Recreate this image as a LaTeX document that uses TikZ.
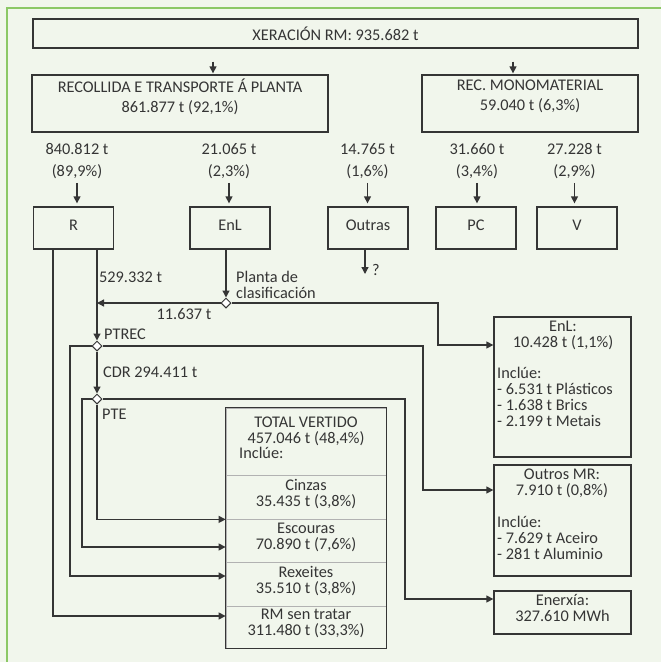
\documentclass[tikz,border=0pt]{standalone}
\usepackage{fontspec}
\setmainfont{Carlito}
\usepackage{xcolor}
\usepackage{tikz}
\usetikzlibrary{positioning,arrows.meta,shapes.geometric}

\definecolor{bggreen}{HTML}{F1F6EC}
\definecolor{framegreen}{HTML}{8CC866}
\definecolor{ink}{HTML}{353535}

\begin{document}
\begin{tikzpicture}[x=1pt, y=-1pt,
        font=\fontsize{16.3}{16}\selectfont,
        box/.style={rectangle, draw=ink, line width=1.3pt, text=ink, align=center, inner sep=0pt},
        row/.style={rectangle, draw=gray!60, line width=0.8pt, minimum width=160pt, text=ink, align=center, inner sep=0pt, text depth=9pt},
        junction/.style={diamond, aspect=1, draw=ink, fill=white, line width=1pt, minimum size=10pt, inner sep=0pt},
        arr/.style={-{Triangle[length=7pt, width=7pt]}, draw=ink, line width=1.3pt},
        note/.style={text=ink, align=center, inner sep=0pt}
    ]
    % Background and frame
    \useasboundingbox (0,0) rectangle (661,662);
    \fill[bggreen] (0,0) rectangle (661,662);
    \draw[framegreen, line width=2pt] (7,662) -- (7,8) -- (661,8);

    % Generation and collection
    \node[box, minimum width=605pt, minimum height=29pt] (gen) at (335.5,33.5) {XERACIÓN RM: 935.682 t};
    \node[box, minimum width=296pt, minimum height=57pt, text depth=16pt] (col) at (180,103.5) {RECOLLIDA E TRANSPORTE Á PLANTA\\[4pt]861.877 t (92,1\%)};
    \node[box, minimum width=216pt, minimum height=57pt, text depth=16pt] (mono) at (530,103.5) {REC. MONOMATERIAL\\[4pt]59.040 t (6,3\%)};
    \draw[arr, shorten <=13pt, shorten >=1pt] ([xshift=33pt]col.north |- gen.south) -- ([xshift=33pt]col.north);
    \draw[arr, shorten <=13pt, shorten >=1pt] ([xshift=-17pt]mono.north |- gen.south) -- ([xshift=-17pt]mono.north);

    % Fractions
    \foreach \n/\x/\t in {r/73.5/R, enl/230/EnL, outras/368/Outras, pc/476/PC, v/577/V} {
        \node[box, minimum width=80pt, minimum height=42pt, text depth=6pt] (\n) at (\x,228) {\t};
    }
    \foreach \n/\x/\amt/\pct in {r/77/840.812/{89,9}, enl/229/21.065/{2,3}, outras/367.5/14.765/{1,6}, pc/477/31.660/{3,4}, v/574.5/27.228/{2,9}} {
        \node[note] (\n-val) at (\x,161) {\amt{} t\\[6pt](\pct\%)};
        \draw[arr, shorten <=4pt, shorten >=3pt] (\n-val.south) -- (\n-val.south |- \n.north);
    }
    \coordinate (unknown) at (365,274);
    \draw[arr] (unknown |- outras.south) -- (unknown);
    \node[note] (qmark) at (376,270) {?};

    % Plants
    \node[junction] (planta) at (226,303) {};
    \node[junction] (ptrec) at (97,346) {};
    \node[junction] (pte) at (97,399) {};
    \node[note, anchor=west] (rval) at (99,277) {529.332 t};
    \node[note, anchor=west, align=left] (plantalab) at (236,284.5) {Planta de\\clasificación};
    \node[note] (enlval) at (184,314) {11.637 t};
    \node[note, anchor=west] (ptreclab) at (104,334) {PTREC};
    \node[note, anchor=west] (cdr) at (103,372) {CDR 294.411 t};
    \node[note, anchor=west] (ptelab) at (102,414) {PTE};

    % Landfill
    \node[row, minimum height=67pt, text depth=23pt] (hdr) at (306,441.5) {TOTAL VERTIDO\\457.046 t (48,4\%)};
    \node[note, anchor=west] (inc) at (239,453) {Inclúe:};
    \node[row, minimum height=44pt] (cin) at (306,497) {Cinzas\\35.435 t (3,8\%)};
    \node[row, minimum height=43pt] (esc) at (306,540.5) {Escouras\\70.890 t (7,6\%)};
    \node[row, minimum height=44pt] (rex) at (306,584) {Rexeites\\35.510 t (3,8\%)};
    \node[row, minimum height=42pt] (rmst) at (306,627) {RM sen tratar\\311.480 t (33,3\%)};
    \draw[ink, line width=1.3pt] (hdr.north west) rectangle (rmst.south east);

    % Recovered outputs
    \node[box, minimum width=137pt, minimum height=140pt] (enlout) at (562.5,387) {};
    \node[note] (enlhead) at (563,335) {EnL:\\10.428 t (1,1\%)};
    \node[note, anchor=north west, align=left] (enlinc) at (497,367) {Inclúe:\\- 6.531 t Plásticos\\- 1.638 t Brics\\- 2.199 t Metais};
    \node[box, minimum width=137pt, minimum height=111pt] (mrbox) at (562.5,520.5) {};
    \node[note] (mrhead) at (562,483) {Outros MR:\\7.910 t (0,8\%)};
    \node[note, anchor=north west, align=left] (mrinc) at (497,516) {Inclúe:\\- 7.629 t Aceiro\\- 281 t Aluminio};
    \node[box, minimum width=137pt, minimum height=43pt, text depth=10pt] (enx) at (562.5,612.5) {Enerxía:\\327.610 MWh};

    % Flows
    \coordinate (enlbend) at (438,345);
    \coordinate (mrbend) at (423,490);
    \coordinate (rexbend) at (70,576);
    \coordinate (escbend) at (82,547);
    \coordinate (enxbend) at (405,599);
    \coordinate (rmbend) at (53,616);
    \draw[arr] (ptrec.north |- r.south) -- (ptrec.north);
    \draw[arr] (planta.north |- enl.south) -- (planta.north);
    \draw[arr] (planta.west) -- (planta.west -| ptrec);
    \draw[arr] (planta.east) -| (enlbend) -- (enlbend -| enlout.west);
    \draw[arr] (ptrec.south) -- (pte.north);
    \draw[arr] (ptrec.west) -| (rexbend) -- (rexbend -| rex.west);
    \draw[arr] (ptrec.east) -| (mrbend) -- (mrbend -| mrbox.west);
    \draw[arr] (pte.west) -| (escbend) -- (escbend -| esc.west);
    \draw[arr] (pte.east) -| (enxbend) -- (enxbend -| enx.west);
    \draw[arr] (pte.south) |- (cin.south west);
    \draw[arr] (r.south -| rmbend) -- (rmbend) -- (rmbend -| rmst.west);
\end{tikzpicture}
\end{document}
